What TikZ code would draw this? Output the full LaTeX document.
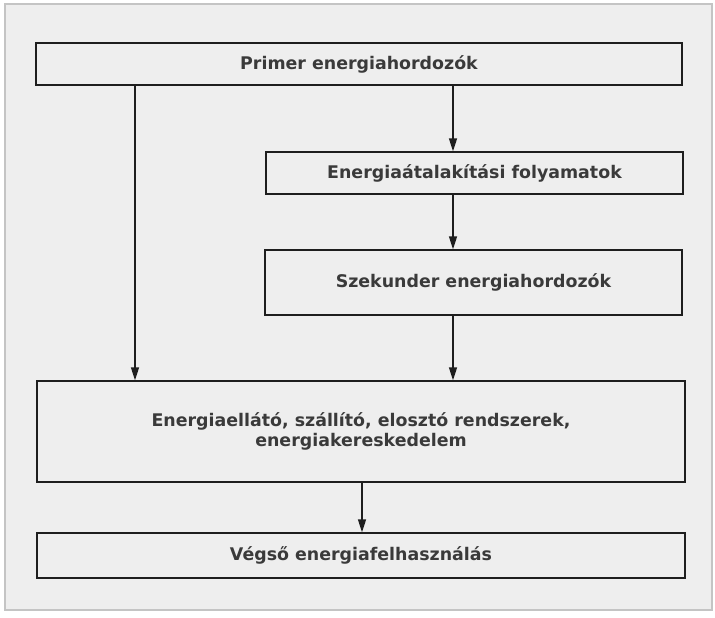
\documentclass[tikz,border=0pt]{standalone}
\usepackage{fontspec}
\setmainfont{DejaVu Sans}
\usetikzlibrary{arrows.meta}
\definecolor{panel}{HTML}{EEEEEE}
\definecolor{frame}{HTML}{C4C4C4}
\definecolor{txt}{HTML}{3A3A3A}
\definecolor{ln}{HTML}{1E1E1E}
\tikzset{
  box/.style={draw=ln, line width=1.3pt, rectangle, inner sep=0pt, align=center,
    text=txt, font=\bfseries\fontsize{17.4}{20.5}\selectfont},
  arr/.style={draw=ln, line width=1.3pt, -{Triangle[length=13pt,width=8pt]}}
}
\begin{document}
\begin{tikzpicture}[x=1pt,y=-1pt]
\useasboundingbox (0,0) rectangle (715,618);
\fill[white] (0,0) rectangle (715,618);
\draw[fill=panel, draw=frame, line width=1.5pt] (5,4) rectangle (712,610);

\node[box, minimum width=646pt, minimum height=42pt] (p) at (359,64) {Primer energiahordozók};
\node[box, minimum width=417pt, minimum height=42pt] (t) at (474.5,173) {Energiaátalakítási folyamatok};
\node[box, minimum width=417pt, minimum height=65pt] (s) at (473.5,282.5) {Szekunder energiahordozók};
\node[box, minimum width=648pt, minimum height=101pt] (e) at (361,431.5) {Energiaellátó, szállító, elosztó rendszerek,\\energiakereskedelem};
\node[box, minimum width=648pt, minimum height=45pt] (v) at (361,555.5) {Végső energiafelhasználás};

\coordinate (lx) at (135,0);
\coordinate (rx) at (453,0);
\coordinate (mx) at (362,0);

\draw[arr] (p.south -| lx) -- (e.north -| lx);
\draw[arr] (p.south -| rx) -- (t.north -| rx);
\draw[arr] (t.south -| rx) -- (s.north -| rx);
\draw[arr] (s.south -| rx) -- (e.north -| rx);
\draw[arr] (e.south -| mx) -- (v.north -| mx);
\end{tikzpicture}
\end{document}
